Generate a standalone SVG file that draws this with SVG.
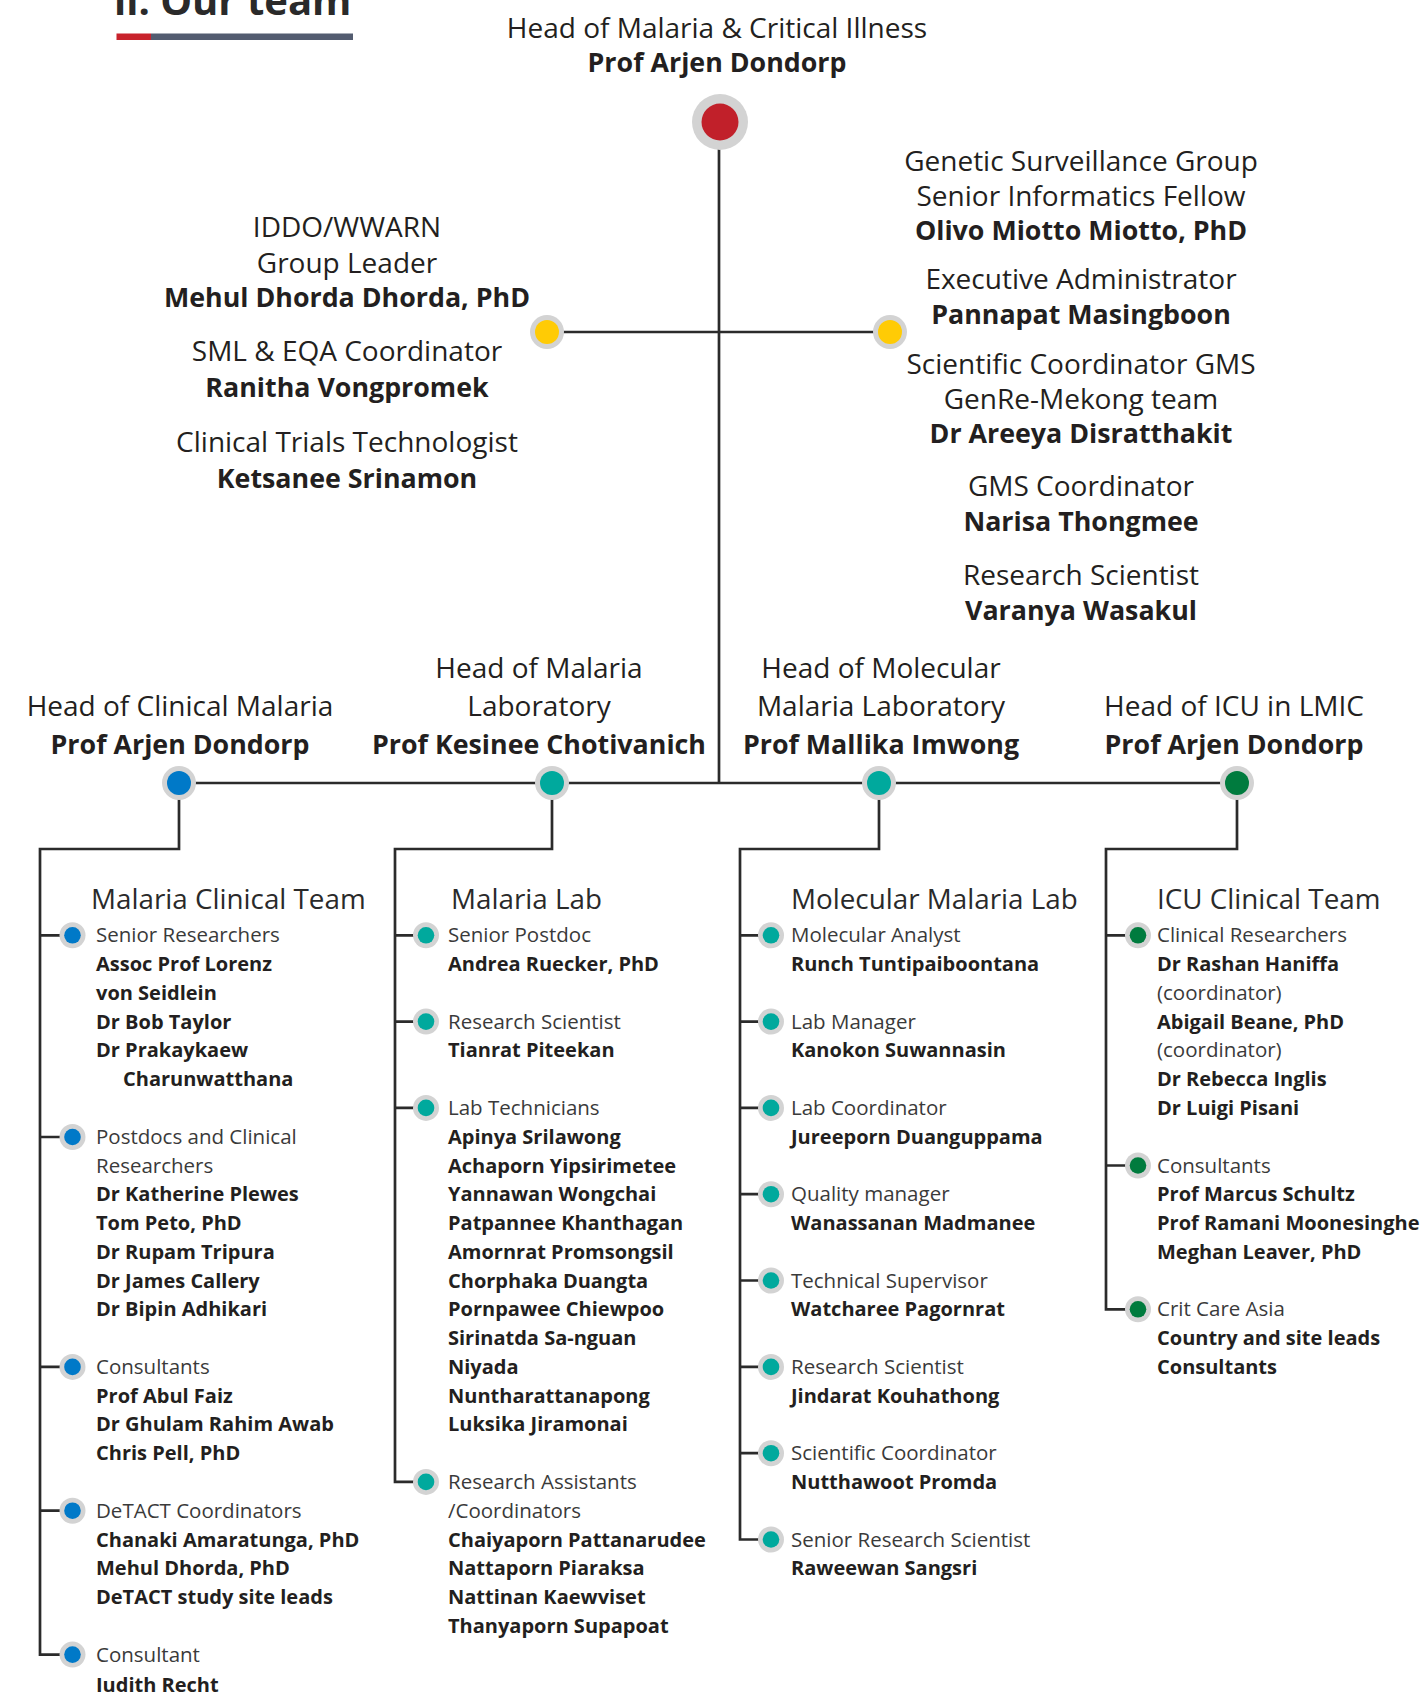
<svg xmlns="http://www.w3.org/2000/svg" width="1424" height="1692" viewBox="0 0 1424 1692">
  <style>
    text { fill: #231f20; font-family: "Open Sans", "Liberation Sans", sans-serif; }
    .up { font-size: 28px; text-anchor: middle; }
    .upb { font-size: 26.8px; font-weight: 700; text-anchor: middle; }
    .ch { font-size: 27.8px; fill: #2a2a2a; }
    .r { font-size: 20.5px; fill: #3a3a3a; }
    .b { font-size: 20px; font-weight: 700; }
    .title { font-size: 40px; font-weight: 700; fill: #2a2a2a; }
    .ln { fill: none; stroke: #2b2b2b; stroke-width: 2.7; }
    .ring { fill: #d3d3d3; }
    .red { fill: #c1202a; }
    .yel { fill: #ffcb05; }
    .blu { fill: #0079c8; }
    .tea { fill: #00a99d; }
    .grn { fill: #007b3e; }
  </style>

  <!-- page heading -->
  <g id="page-title">
    <text class="title" x="114" y="15">ii. Our team</text>
    <rect x="116.5" y="33.5" width="34.5" height="6.5" fill="#c8232c"/>
    <rect x="151" y="33.5" width="202" height="6.5" fill="#535c70"/>
  </g>

  <!-- connectors -->
  <g id="connectors">
    <path class="ln" d="M719 122 V783"/>
    <path class="ln" d="M547 332 H890"/>
    <path class="ln" d="M179 783 H1237"/>
    <!-- drops from the four heads to their teams -->
    <path class="ln" d="M179 783 V849 H40 V1654.6 H72"/>
    <path class="ln" d="M552 783 V849 H395 V1481.9 H426"/>
    <path class="ln" d="M879 783 V849 H740 V1539.5 H771"/>
    <path class="ln" d="M1237 783 V849 H1106 V1309.3 H1138"/>
    <!-- branches, clinical team -->
    <path class="ln" d="M40 935.3 H72 M40 1137 H72 M40 1366.9 H72 M40 1510.7 H72"/>
    <!-- branches, malaria lab -->
    <path class="ln" d="M395 935.3 H426 M395 1021.6 H426 M395 1107.9 H426"/>
    <!-- branches, molecular lab -->
    <path class="ln" d="M740 935.3 H771 M740 1021.6 H771 M740 1107.9 H771 M740 1194.2 H771 M740 1280.5 H771 M740 1366.9 H771 M740 1453.2 H771"/>
    <!-- branches, ICU team -->
    <path class="ln" d="M1106 935.3 H1138 M1106 1165.5 H1138"/>
  </g>

  <!-- head of unit -->
  <g id="node-head">
    <text class="up" x="717" y="38">Head of Malaria &amp; Critical Illness</text>
    <text class="upb" x="717" y="72">Prof Arjen Dondorp</text>
    <circle class="ring" cx="720" cy="122" r="28"/>
    <circle class="red" cx="720" cy="122" r="18.5"/>
  </g>

  <g id="node-iddo">
    <text class="up" x="347" y="237">IDDO/WWARN</text>
    <text class="up" x="347" y="273">Group Leader</text>
    <text class="upb" x="347" y="307">Mehul Dhorda Dhorda, PhD</text>
    <text class="up" x="347" y="361">SML &amp; EQA Coordinator</text>
    <text class="upb" x="347" y="397">Ranitha Vongpromek</text>
    <text class="up" x="347" y="452">Clinical Trials Technologist</text>
    <text class="upb" x="347" y="488">Ketsanee Srinamon</text>
    <circle class="ring" cx="547" cy="332" r="17"/>
    <circle class="yel" cx="547" cy="332" r="12"/>
  </g>

  <g id="node-genetic">
    <text class="up" x="1081" y="171">Genetic Surveillance Group</text>
    <text class="up" x="1081" y="206">Senior Informatics Fellow</text>
    <text class="upb" x="1081" y="240">Olivo Miotto Miotto, PhD</text>
    <text class="up" x="1081" y="289">Executive Administrator</text>
    <text class="upb" x="1081" y="324">Pannapat Masingboon</text>
    <text class="up" x="1081" y="374">Scientific Coordinator GMS</text>
    <text class="up" x="1081" y="409">GenRe-Mekong team</text>
    <text class="upb" x="1081" y="443">Dr Areeya Disratthakit</text>
    <text class="up" x="1081" y="496">GMS Coordinator</text>
    <text class="upb" x="1081" y="531">Narisa Thongmee</text>
    <text class="up" x="1081" y="585">Research Scientist</text>
    <text class="upb" x="1081" y="620">Varanya Wasakul</text>
    <circle class="ring" cx="890" cy="332" r="17"/>
    <circle class="yel" cx="890" cy="332" r="12"/>
  </g>

  <!-- heads of the four groups -->
  <g id="node-clinical-head">
    <text class="up" x="180" y="716">Head of Clinical Malaria</text>
    <text class="upb" x="180" y="754">Prof Arjen Dondorp</text>
    <circle class="ring" cx="179" cy="783" r="17"/>
    <circle class="blu" cx="179" cy="783" r="12"/>
  </g>
  <g id="node-lab-head">
    <text class="up" x="539" y="678">Head of Malaria</text>
    <text class="up" x="539" y="716">Laboratory</text>
    <text class="upb" x="539" y="754">Prof Kesinee Chotivanich</text>
    <circle class="ring" cx="552" cy="783" r="17"/>
    <circle class="tea" cx="552" cy="783" r="12"/>
  </g>
  <g id="node-molecular-head">
    <text class="up" x="881" y="678">Head of Molecular</text>
    <text class="up" x="881" y="716">Malaria Laboratory</text>
    <text class="upb" x="881" y="754">Prof Mallika Imwong</text>
    <circle class="ring" cx="879" cy="783" r="17"/>
    <circle class="tea" cx="879" cy="783" r="12"/>
  </g>
  <g id="node-icu-head">
    <text class="up" x="1234" y="716">Head of ICU in LMIC</text>
    <text class="upb" x="1234" y="754">Prof Arjen Dondorp</text>
    <circle class="ring" cx="1237" cy="783" r="17"/>
    <circle class="grn" cx="1237" cy="783" r="12"/>
  </g>

  <!-- Malaria Clinical Team -->
  <g id="team-clinical">
    <text class="ch" x="91" y="909">Malaria Clinical Team</text>
    <g id="clinical-senior">
      <circle class="ring" cx="72.5" cy="935.3" r="13"/>
      <circle class="blu" cx="72.5" cy="935.3" r="8.3"/>
      <text class="r" x="96" y="942.3">Senior Researchers</text>
      <text class="b" x="96" y="971.1">Assoc Prof Lorenz</text>
      <text class="b" x="96" y="999.8">von Seidlein</text>
      <text class="b" x="96" y="1028.6">Dr Bob Taylor</text>
      <text class="b" x="96" y="1057.4">Dr Prakaykaew</text>
      <text class="b" x="123" y="1086.2">Charunwatthana</text>
    </g>
    <g id="clinical-postdocs">
      <circle class="ring" cx="72.5" cy="1137" r="13"/>
      <circle class="blu" cx="72.5" cy="1137" r="8.3"/>
      <text class="r" x="96" y="1143.7">Postdocs and Clinical</text>
      <text class="r" x="96" y="1172.5">Researchers</text>
      <text class="b" x="96" y="1201.2">Dr Katherine Plewes</text>
      <text class="b" x="96" y="1230">Tom Peto, PhD</text>
      <text class="b" x="96" y="1258.8">Dr Rupam Tripura</text>
      <text class="b" x="96" y="1287.5">Dr James Callery</text>
      <text class="b" x="96" y="1316.3">Dr Bipin Adhikari</text>
    </g>
    <g id="clinical-consultants">
      <circle class="ring" cx="72.5" cy="1366.9" r="13"/>
      <circle class="blu" cx="72.5" cy="1366.9" r="8.3"/>
      <text class="r" x="96" y="1373.9">Consultants</text>
      <text class="b" x="96" y="1402.6">Prof Abul Faiz</text>
      <text class="b" x="96" y="1431.4">Dr Ghulam Rahim Awab</text>
      <text class="b" x="96" y="1460.2">Chris Pell, PhD</text>
    </g>
    <g id="clinical-detact">
      <circle class="ring" cx="72.5" cy="1510.7" r="13"/>
      <circle class="blu" cx="72.5" cy="1510.7" r="8.3"/>
      <text class="r" x="96" y="1517.7">DeTACT Coordinators</text>
      <text class="b" x="96" y="1546.5">Chanaki Amaratunga, PhD</text>
      <text class="b" x="96" y="1575.2">Mehul Dhorda, PhD</text>
      <text class="b" x="96" y="1604">DeTACT study site leads</text>
    </g>
    <g id="clinical-consultant">
      <circle class="ring" cx="72.5" cy="1654.6" r="13"/>
      <circle class="blu" cx="72.5" cy="1654.6" r="8.3"/>
      <text class="r" x="96" y="1661.6">Consultant</text>
      <text class="b" x="96" y="1692">Judith Recht</text>
    </g>
  </g>

  <!-- Malaria Lab -->
  <g id="team-lab">
    <text class="ch" x="451" y="909">Malaria Lab</text>
    <g id="lab-postdoc">
      <circle class="ring" cx="426" cy="935.3" r="13"/>
      <circle class="tea" cx="426" cy="935.3" r="8.3"/>
      <text class="r" x="448" y="942.3">Senior Postdoc</text>
      <text class="b" x="448" y="971.1">Andrea Ruecker, PhD</text>
    </g>
    <g id="lab-scientist">
      <circle class="ring" cx="426" cy="1021.6" r="13"/>
      <circle class="tea" cx="426" cy="1021.6" r="8.3"/>
      <text class="r" x="448" y="1028.6">Research Scientist</text>
      <text class="b" x="448" y="1057.4">Tianrat Piteekan</text>
    </g>
    <g id="lab-technicians">
      <circle class="ring" cx="426" cy="1107.9" r="13"/>
      <circle class="tea" cx="426" cy="1107.9" r="8.3"/>
      <text class="r" x="448" y="1114.9">Lab Technicians</text>
      <text class="b" x="448" y="1143.7">Apinya Srilawong</text>
      <text class="b" x="448" y="1172.5">Achaporn Yipsirimetee</text>
      <text class="b" x="448" y="1201.2">Yannawan Wongchai</text>
      <text class="b" x="448" y="1230">Patpannee Khanthagan</text>
      <text class="b" x="448" y="1258.8">Amornrat Promsongsil</text>
      <text class="b" x="448" y="1287.5">Chorphaka Duangta</text>
      <text class="b" x="448" y="1316.3">Pornpawee Chiewpoo</text>
      <text class="b" x="448" y="1345.1">Sirinatda Sa-nguan</text>
      <text class="b" x="448" y="1373.9">Niyada</text>
      <text class="b" x="448" y="1402.6">Nuntharattanapong</text>
      <text class="b" x="448" y="1431.4">Luksika Jiramonai</text>
    </g>
    <g id="lab-assistants">
      <circle class="ring" cx="426" cy="1481.9" r="13"/>
      <circle class="tea" cx="426" cy="1481.9" r="8.3"/>
      <text class="r" x="448" y="1488.9">Research Assistants</text>
      <text class="r" x="448" y="1517.7">/Coordinators</text>
      <text class="b" x="448" y="1546.5">Chaiyaporn Pattanarudee</text>
      <text class="b" x="448" y="1575.2">Nattaporn Piaraksa</text>
      <text class="b" x="448" y="1604">Nattinan Kaewviset</text>
      <text class="b" x="448" y="1632.8">Thanyaporn Supapoat</text>
    </g>
  </g>

  <!-- Molecular Malaria Lab -->
  <g id="team-molecular">
    <text class="ch" x="791" y="909">Molecular Malaria Lab</text>
    <g id="mol-analyst">
      <circle class="ring" cx="771" cy="935.3" r="13"/>
      <circle class="tea" cx="771" cy="935.3" r="8.3"/>
      <text class="r" x="791" y="942.3">Molecular Analyst</text>
      <text class="b" x="791" y="971.1">Runch Tuntipaiboontana</text>
    </g>
    <g id="mol-manager">
      <circle class="ring" cx="771" cy="1021.6" r="13"/>
      <circle class="tea" cx="771" cy="1021.6" r="8.3"/>
      <text class="r" x="791" y="1028.6">Lab Manager</text>
      <text class="b" x="791" y="1057.4">Kanokon Suwannasin</text>
    </g>
    <g id="mol-coordinator">
      <circle class="ring" cx="771" cy="1107.9" r="13"/>
      <circle class="tea" cx="771" cy="1107.9" r="8.3"/>
      <text class="r" x="791" y="1114.9">Lab Coordinator</text>
      <text class="b" x="791" y="1143.7">Jureeporn Duanguppama</text>
    </g>
    <g id="mol-quality">
      <circle class="ring" cx="771" cy="1194.2" r="13"/>
      <circle class="tea" cx="771" cy="1194.2" r="8.3"/>
      <text class="r" x="791" y="1201.2">Quality manager</text>
      <text class="b" x="791" y="1230">Wanassanan Madmanee</text>
    </g>
    <g id="mol-supervisor">
      <circle class="ring" cx="771" cy="1280.5" r="13"/>
      <circle class="tea" cx="771" cy="1280.5" r="8.3"/>
      <text class="r" x="791" y="1287.5">Technical Supervisor</text>
      <text class="b" x="791" y="1316.3">Watcharee Pagornrat</text>
    </g>
    <g id="mol-scientist">
      <circle class="ring" cx="771" cy="1366.9" r="13"/>
      <circle class="tea" cx="771" cy="1366.9" r="8.3"/>
      <text class="r" x="791" y="1373.9">Research Scientist</text>
      <text class="b" x="791" y="1402.6">Jindarat Kouhathong</text>
    </g>
    <g id="mol-sci-coordinator">
      <circle class="ring" cx="771" cy="1453.2" r="13"/>
      <circle class="tea" cx="771" cy="1453.2" r="8.3"/>
      <text class="r" x="791" y="1460.2">Scientific Coordinator</text>
      <text class="b" x="791" y="1488.9">Nutthawoot Promda</text>
    </g>
    <g id="mol-senior-scientist">
      <circle class="ring" cx="771" cy="1539.5" r="13"/>
      <circle class="tea" cx="771" cy="1539.5" r="8.3"/>
      <text class="r" x="791" y="1546.5">Senior Research Scientist</text>
      <text class="b" x="791" y="1575.2">Raweewan Sangsri</text>
    </g>
  </g>

  <!-- ICU Clinical Team -->
  <g id="team-icu">
    <text class="ch" x="1157" y="909">ICU Clinical Team</text>
    <g id="icu-researchers">
      <circle class="ring" cx="1138" cy="935.3" r="13"/>
      <circle class="grn" cx="1138" cy="935.3" r="8.3"/>
      <text class="r" x="1157" y="942.3">Clinical Researchers</text>
      <text class="b" x="1157" y="971.1">Dr Rashan Haniffa</text>
      <text class="r" x="1157" y="999.8">(coordinator)</text>
      <text class="b" x="1157" y="1028.6">Abigail Beane, PhD</text>
      <text class="r" x="1157" y="1057.4">(coordinator)</text>
      <text class="b" x="1157" y="1086.2">Dr Rebecca Inglis</text>
      <text class="b" x="1157" y="1114.9">Dr Luigi Pisani</text>
    </g>
    <g id="icu-consultants">
      <circle class="ring" cx="1138" cy="1165.5" r="13"/>
      <circle class="grn" cx="1138" cy="1165.5" r="8.3"/>
      <text class="r" x="1157" y="1172.5">Consultants</text>
      <text class="b" x="1157" y="1201.2">Prof Marcus Schultz</text>
      <text class="b" x="1157" y="1230">Prof Ramani Moonesinghe</text>
      <text class="b" x="1157" y="1258.8">Meghan Leaver, PhD</text>
    </g>
    <g id="icu-critcare">
      <circle class="ring" cx="1138" cy="1309.3" r="13"/>
      <circle class="grn" cx="1138" cy="1309.3" r="8.3"/>
      <text class="r" x="1157" y="1316.3">Crit Care Asia</text>
      <text class="b" x="1157" y="1345.1">Country and site leads</text>
      <text class="b" x="1157" y="1373.9">Consultants</text>
    </g>
  </g>
</svg>
